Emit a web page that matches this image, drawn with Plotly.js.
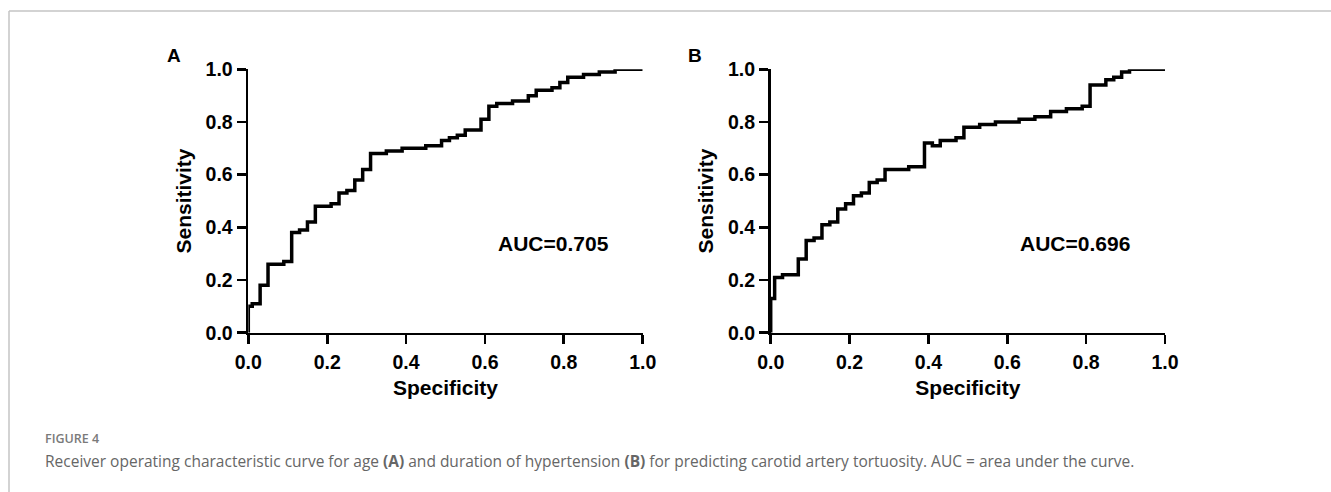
<!DOCTYPE html>
<html>
<head>
<meta charset="utf-8">
<script src="https://cdn.plot.ly/plotly-3.0.1.min.js"></script>
<style>
  html, body { margin: 0; padding: 0; background: #fff; }
  #chart { width: 1331px; height: 492px; }
</style>
</head>
<body>
<div id="chart"></div>
<script>
// Panel A: age
const specA = [0, 0, 0.01, 0.03, 0.05, 0.09, 0.11, 0.13, 0.15, 0.17, 0.21, 0.23, 0.25, 0.27, 0.29, 0.31, 0.35, 0.39, 0.45, 0.49, 0.51, 0.53, 0.55, 0.59, 0.61, 0.63, 0.67, 0.71, 0.73, 0.77, 0.79, 0.81, 0.85, 0.89, 0.93, 1.0];
const sensA = [0, 0.10, 0.11, 0.18, 0.26, 0.27, 0.38, 0.39, 0.42, 0.48, 0.49, 0.53, 0.54, 0.58, 0.62, 0.68, 0.69, 0.70, 0.71, 0.73, 0.74, 0.75, 0.77, 0.81, 0.86, 0.87, 0.88, 0.90, 0.92, 0.93, 0.95, 0.97, 0.98, 0.99, 1.0, 1.0];
// Panel B: duration of hypertension
const specB = [0, 0, 0.01, 0.03, 0.07, 0.09, 0.11, 0.13, 0.15, 0.17, 0.19, 0.21, 0.23, 0.25, 0.27, 0.29, 0.35, 0.39, 0.41, 0.43, 0.47, 0.49, 0.53, 0.57, 0.63, 0.67, 0.71, 0.75, 0.79, 0.81, 0.85, 0.87, 0.89, 0.91, 1.0];
const sensB = [0, 0.13, 0.21, 0.22, 0.28, 0.35, 0.36, 0.41, 0.42, 0.47, 0.49, 0.52, 0.53, 0.57, 0.58, 0.62, 0.63, 0.72, 0.71, 0.73, 0.74, 0.78, 0.79, 0.80, 0.81, 0.82, 0.84, 0.85, 0.86, 0.94, 0.96, 0.97, 0.99, 1.0, 1.0];

const tickVals = [0, 0.2, 0.4, 0.6, 0.8, 1.0];
const tickText = ['0.0', '0.2', '0.4', '0.6', '0.8', '1.0'];
const panelLabels = ['A', 'B'];
const aucLabels = ['AUC=0.705', 'AUC=0.696'];
const xTitle = 'Specificity';
const yTitle = 'Sensitivity';
const figureLabel = 'FIGURE 4';
const captionText = 'Receiver operating characteristic curve for age <b>(A)</b> and duration of hypertension <b>(B)</b> for predicting carotid artery tortuosity. AUC = area under the curve.';

const W = 1331, H = 492;
const px = v => v / W;
const py = v => 1 - v / H;

const lineStyle = {color: '#000', width: 3.5, shape: 'hv'};
const traces = [
  {x: specA, y: sensA, type: 'scatter', mode: 'lines', line: lineStyle, xaxis: 'x', yaxis: 'y', hoverinfo: 'skip'},
  {x: specB, y: sensB, type: 'scatter', mode: 'lines', line: lineStyle, xaxis: 'x2', yaxis: 'y2', hoverinfo: 'skip'}
];

const tickFont = {family: 'Liberation Sans, Arial, sans-serif', size: 19.5, color: '#000', weight: 'bold'};
const titleFont = {family: 'Liberation Sans, Arial, sans-serif', size: 21, color: '#000', weight: 'bold'};

function xAxis(d0, d1, anchor) {
  return {
    domain: [px(d0), px(d1)], range: [0, 1], anchor: anchor,
    tickmode: 'array', tickvals: tickVals, ticktext: tickText,
    ticks: 'outside', ticklen: 9, tickwidth: 2.7, tickcolor: '#000',
    showline: true, linewidth: 2.7, linecolor: '#000',
    showgrid: false, zeroline: false, fixedrange: true,
    tickfont: tickFont, ticklabelstandoff: 1,
    title: {text: '<b>' + xTitle + '</b>', font: titleFont, standoff: 9}
  };
}
function yAxis(anchor) {
  return {
    domain: [py(332.7), py(69.3)], range: [0, 1], anchor: anchor,
    tickmode: 'array', tickvals: tickVals, ticktext: tickText,
    ticks: 'outside', ticklen: 9, tickwidth: 2.7, tickcolor: '#000',
    showline: true, linewidth: 2.7, linecolor: '#000',
    showgrid: false, zeroline: false, fixedrange: true,
    tickfont: tickFont, ticklabelstandoff: 0,
    title: {text: '<b>' + yTitle + '</b>', font: titleFont, standoff: 9}
  };
}

const layout = {
  width: W, height: H,
  margin: {l: 0, r: 0, t: 0, b: 0},
  paper_bgcolor: '#fff', plot_bgcolor: '#fff',
  showlegend: false,
  xaxis: xAxis(248.3, 642.7, 'y'),
  yaxis: yAxis('x'),
  xaxis2: xAxis(770.7, 1165, 'y2'),
  yaxis2: yAxis('x2'),
  annotations: [
    {xref: 'paper', yref: 'paper', x: px(174.5), y: py(56), text: '<b>' + panelLabels[0] + '</b>', showarrow: false, xanchor: 'center', yanchor: 'middle', font: {family: 'Liberation Sans, Arial, sans-serif', size: 19, color: '#000'}},
    {xref: 'paper', yref: 'paper', x: px(695), y: py(56), text: '<b>' + panelLabels[1] + '</b>', showarrow: false, xanchor: 'center', yanchor: 'middle', font: {family: 'Liberation Sans, Arial, sans-serif', size: 19, color: '#000'}},
    {xref: 'x', yref: 'y', x: 0.774, y: 0.337, text: '<b>' + aucLabels[0] + '</b>', showarrow: false, xanchor: 'center', yanchor: 'middle', font: {family: 'Liberation Sans, Arial, sans-serif', size: 21, color: '#000'}},
    {xref: 'x2', yref: 'y2', x: 0.772, y: 0.34, text: '<b>' + aucLabels[1] + '</b>', showarrow: false, xanchor: 'center', yanchor: 'middle', font: {family: 'Liberation Sans, Arial, sans-serif', size: 21, color: '#000'}},
    {xref: 'paper', yref: 'paper', x: px(43), y: py(438), text: figureLabel, showarrow: false, xanchor: 'left', yanchor: 'middle', font: {family: 'Open Sans, sans-serif', size: 12.5, color: '#7a7a7a', weight: 600}},
    {xref: 'paper', yref: 'paper', x: px(43), y: py(461), text: captionText, showarrow: false, xanchor: 'left', yanchor: 'middle', font: {family: 'Open Sans, sans-serif', size: 15.5, color: '#666'}}
  ],
  shapes: [
    {type: 'line', xref: 'paper', yref: 'paper', x0: px(9), x1: 1, y0: py(11), y1: py(11), line: {color: '#c4c4c4', width: 1.5}},
    {type: 'line', xref: 'paper', yref: 'paper', x0: px(9), x1: px(9), y0: py(11), y1: 0, line: {color: '#c4c4c4', width: 1.5}}
  ]
};

Plotly.newPlot('chart', traces, layout, {staticPlot: true, displayModeBar: false});
</script>
</body>
</html>
